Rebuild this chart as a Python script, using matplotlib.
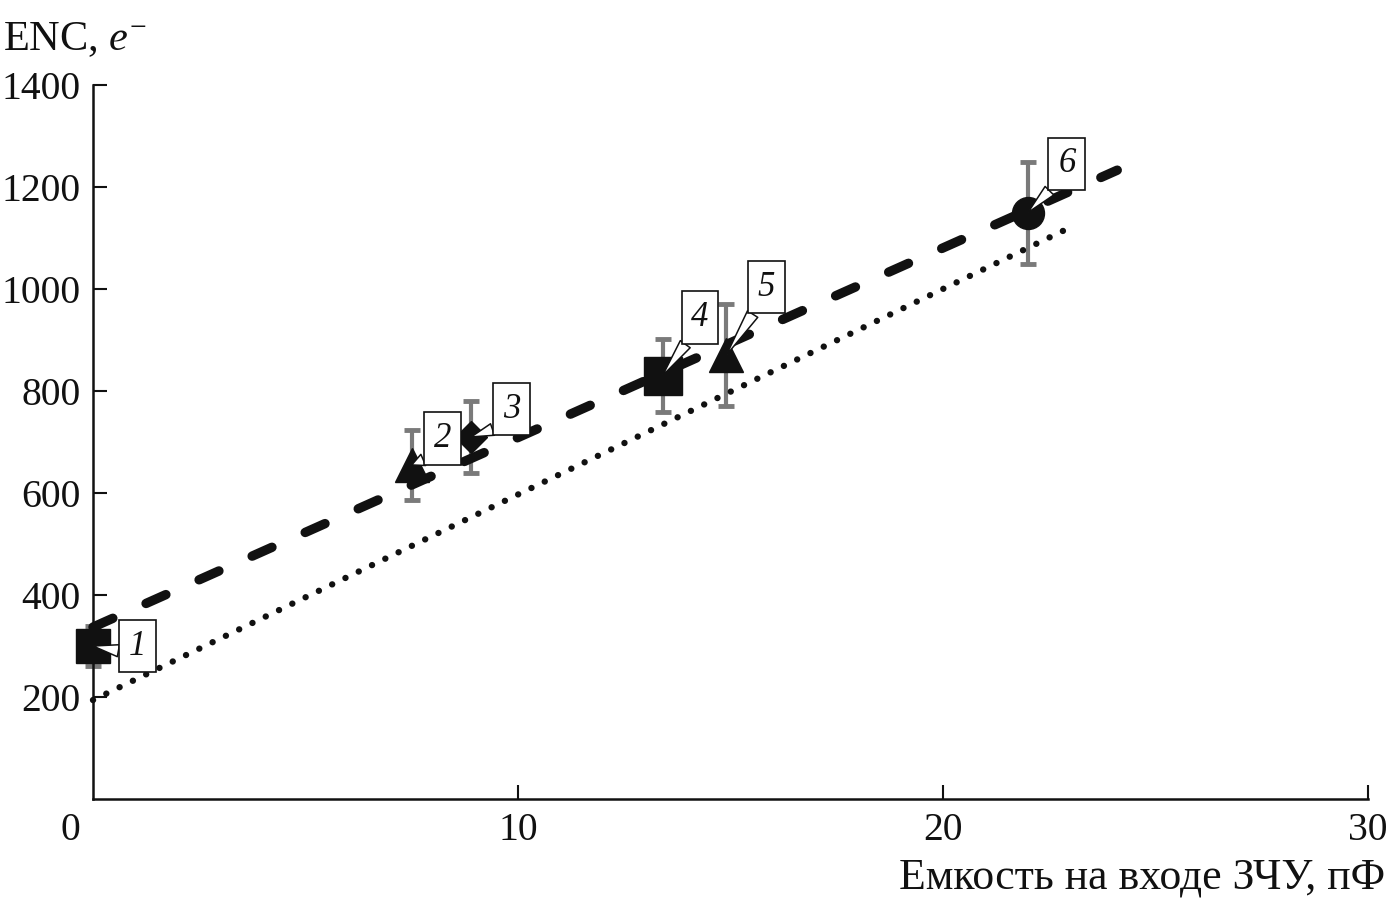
import matplotlib

matplotlib.use("Agg")
import matplotlib.pyplot as plt

plt.rcParams["font.family"] = ["Liberation Serif", "DejaVu Serif"]
plt.rcParams["mathtext.fontset"] = "custom"
plt.rcParams["mathtext.rm"] = "Liberation Serif"
plt.rcParams["mathtext.it"] = "Liberation Serif:italic"

# measured points (input capacitance, pF -> ENC, e-)
capacitance = [0.0, 7.5, 8.9, 13.4, 14.9, 22.0]
enc = [300, 655, 710, 830, 870, 1150]
enc_err = [40, 68, 70, 72, 100, 100]
point_labels = ["1", "2", "3", "4", "5", "6"]

# model curves
dashed_x = [0.0, 24.1]
dashed_y = [337, 1233]
dotted_x = [0.0, 22.9]
dotted_y = [194, 1117]

xticks = [10, 20, 30]
yticks = [200, 400, 600, 800, 1000, 1200, 1400]

# style per point
markers = ["s", "^", "D", "s", "^", "o"]
msizes = [24, 25, 16, 27, 24, 23]
label_offsets = [(32, 0), (22, 19), (29, 20), (27, 42), (29, 49), (28, 35)]
wedge_relpos = [(0.0, 0.3), (0.05, 0.0), (0.05, 0.0), (0.08, 0.0), (0.08, 0.0), (0.08, 0.0)]

INK = "#111111"

fig = plt.figure(figsize=(13.88, 9.05), dpi=100)
ax = fig.add_axes([93 / 1388, 106 / 905, 1275 / 1388, 714 / 905])

ax.plot(dashed_x, dashed_y, color=INK, lw=6.8, ls=(0, (2.3, 3.85)),
        dash_capstyle="round", zorder=2, clip_on=False)
ax.plot(dotted_x, dotted_y, color=INK, lw=4.6, ls=(0, (0.01, 2.3)),
        dash_capstyle="round", zorder=2, clip_on=False)

ax.errorbar(capacitance, enc, yerr=enc_err, fmt="none", ecolor="#7a7a7a",
            elinewidth=3, capsize=6, capthick=3.5, zorder=1, clip_on=False)

for x, y, m, ms, lab, off, rp in zip(capacitance, enc, markers, msizes,
                                     point_labels, label_offsets, wedge_relpos):
    ax.plot([x], [y], marker=m, ms=ms, color=INK, ls="none", zorder=3,
            clip_on=False)
    ax.annotate(lab, xy=(x, y), xytext=off, textcoords="offset points",
                ha="center", va="center", fontsize=25, style="italic", zorder=4,
                color=INK,
                bbox=dict(boxstyle="square,pad=0.28", fc="white", ec=INK, lw=1.2),
                arrowprops=dict(arrowstyle="wedge,tail_width=0.35,shrink_factor=0.5",
                                fc="white", ec=INK, lw=1.1, relpos=rp,
                                shrinkA=0, shrinkB=0))

ax.set_xlim(0, 30)
ax.set_ylim(0, 1400)
ax.set_xticks(xticks)
ax.set_yticks(yticks)
ax.tick_params(direction="in", length=10, width=1.5, pad=9, labelsize=28.5,
               colors=INK)
for side in ("top", "right"):
    ax.spines[side].set_visible(False)
for side in ("left", "bottom"):
    ax.spines[side].set_linewidth(1.8)
    ax.spines[side].set_color(INK)

ax.annotate("0", xy=(0, 0), xycoords="axes fraction", xytext=(-16, -9),
            textcoords="offset points", ha="center", va="top", fontsize=28.5,
            color=INK, annotation_clip=False)

ax.set_xlabel("Емкость на входе ЗЧУ, пФ", fontsize=31.5, loc="right", color=INK)
ax.xaxis.set_label_coords(1.0133, -0.082)
ax.text(-0.0706, 1.049, "ENC, $e^{-}$", transform=ax.transAxes, fontsize=30.5,
        ha="left", va="baseline", color=INK)

fig.savefig("out.png", dpi=100)
